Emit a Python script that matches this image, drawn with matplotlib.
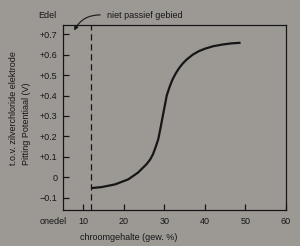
import matplotlib
matplotlib.use("Agg")
import matplotlib.pyplot as plt

plt.rcParams['font.family'] = ['Liberation Sans', 'DejaVu Sans']

chroom = [11.9, 14.5, 17.8, 21.1, 23.5, 25.6, 26.5, 27.2, 27.8, 28.5, 29.0, 29.8, 30.6,
          31.3, 32.0, 32.8, 33.6, 34.5, 35.5, 37.0, 38.5, 40.0, 42.0, 44.5, 46.5, 48.8]
potentiaal = [-0.053, -0.048, -0.035, -0.01, 0.023, 0.064, 0.087, 0.113, 0.145, 0.187, 0.236,
              0.319, 0.401, 0.443, 0.478, 0.508, 0.533, 0.556, 0.576, 0.600, 0.617, 0.629,
              0.641, 0.650, 0.655, 0.658]
grens = 12
xticks = [10, 20, 30, 40, 50, 60]
yticks = [-0.1, 0, 0.1, 0.2, 0.3, 0.4, 0.5, 0.6, 0.7]
ylabels = ['\u22120.1', '0', '+0.1', '+0.2', '+0.3', '+0.4', '+0.5', '+0.6', '+0.7']

bg = '#9c9995'
ink = '#161616'
fig = plt.figure(figsize=(3.0, 2.46), dpi=100, facecolor=bg)
ax = fig.add_axes([63/300, 1-210/246, (286-63)/300, (210-25)/246], facecolor=bg)

ax.plot(chroom, potentiaal, color=ink, lw=1.6, solid_joinstyle='round', solid_capstyle='butt')
ax.axvline(grens, color=ink, lw=0.9, dashes=(5, 3))

ax.set_xlim(5, 60)
ax.set_ylim(-0.16, 0.745)
ax.set_xticks(xticks)
ax.set_yticks(yticks)
ax.set_yticklabels(ylabels)
ax.tick_params(direction='in', length=4, width=0.9, color=ink, labelcolor=ink, labelsize=6.5)
ax.tick_params(axis='x', pad=5)
ax.tick_params(axis='y', pad=4)
for s in ax.spines.values():
    s.set_color(ink)
    s.set_linewidth(0.9)

fig.text(38/300, 1-16/246, 'Edel', fontsize=6.5, color=ink, va='center', ha='left')
fig.text(40/300, 1-222/246, 'onedel', fontsize=6.5, color=ink, va='center', ha='left')
fig.text(80/300, 1-238/246, 'chroomgehalte (gew. %)', fontsize=6.5, color=ink, va='center', ha='left')
fig.text(14/300, 1-165/246, 't.o.v. zilverchloride elektrode', fontsize=6.5, color=ink,
         rotation=90, va='bottom', ha='center')
fig.text(27/300, 1-165/246, 'Pitting Potentiaal (V)', fontsize=6.5, color=ink,
         rotation=90, va='bottom', ha='center')
fig.text(107/300, 1-15/246, 'niet passief gebied', fontsize=6.5, color=ink, va='center', ha='left')
ax.annotate('', xy=(73/300, 1-33/246), xycoords='figure fraction',
            xytext=(103/300, 1-15/246), textcoords='figure fraction',
            arrowprops=dict(arrowstyle='-|>', color=ink, lw=0.8, mutation_scale=6,
                            connectionstyle='arc3,rad=0.35'))

fig.savefig('out.png', dpi=100, facecolor=bg)
